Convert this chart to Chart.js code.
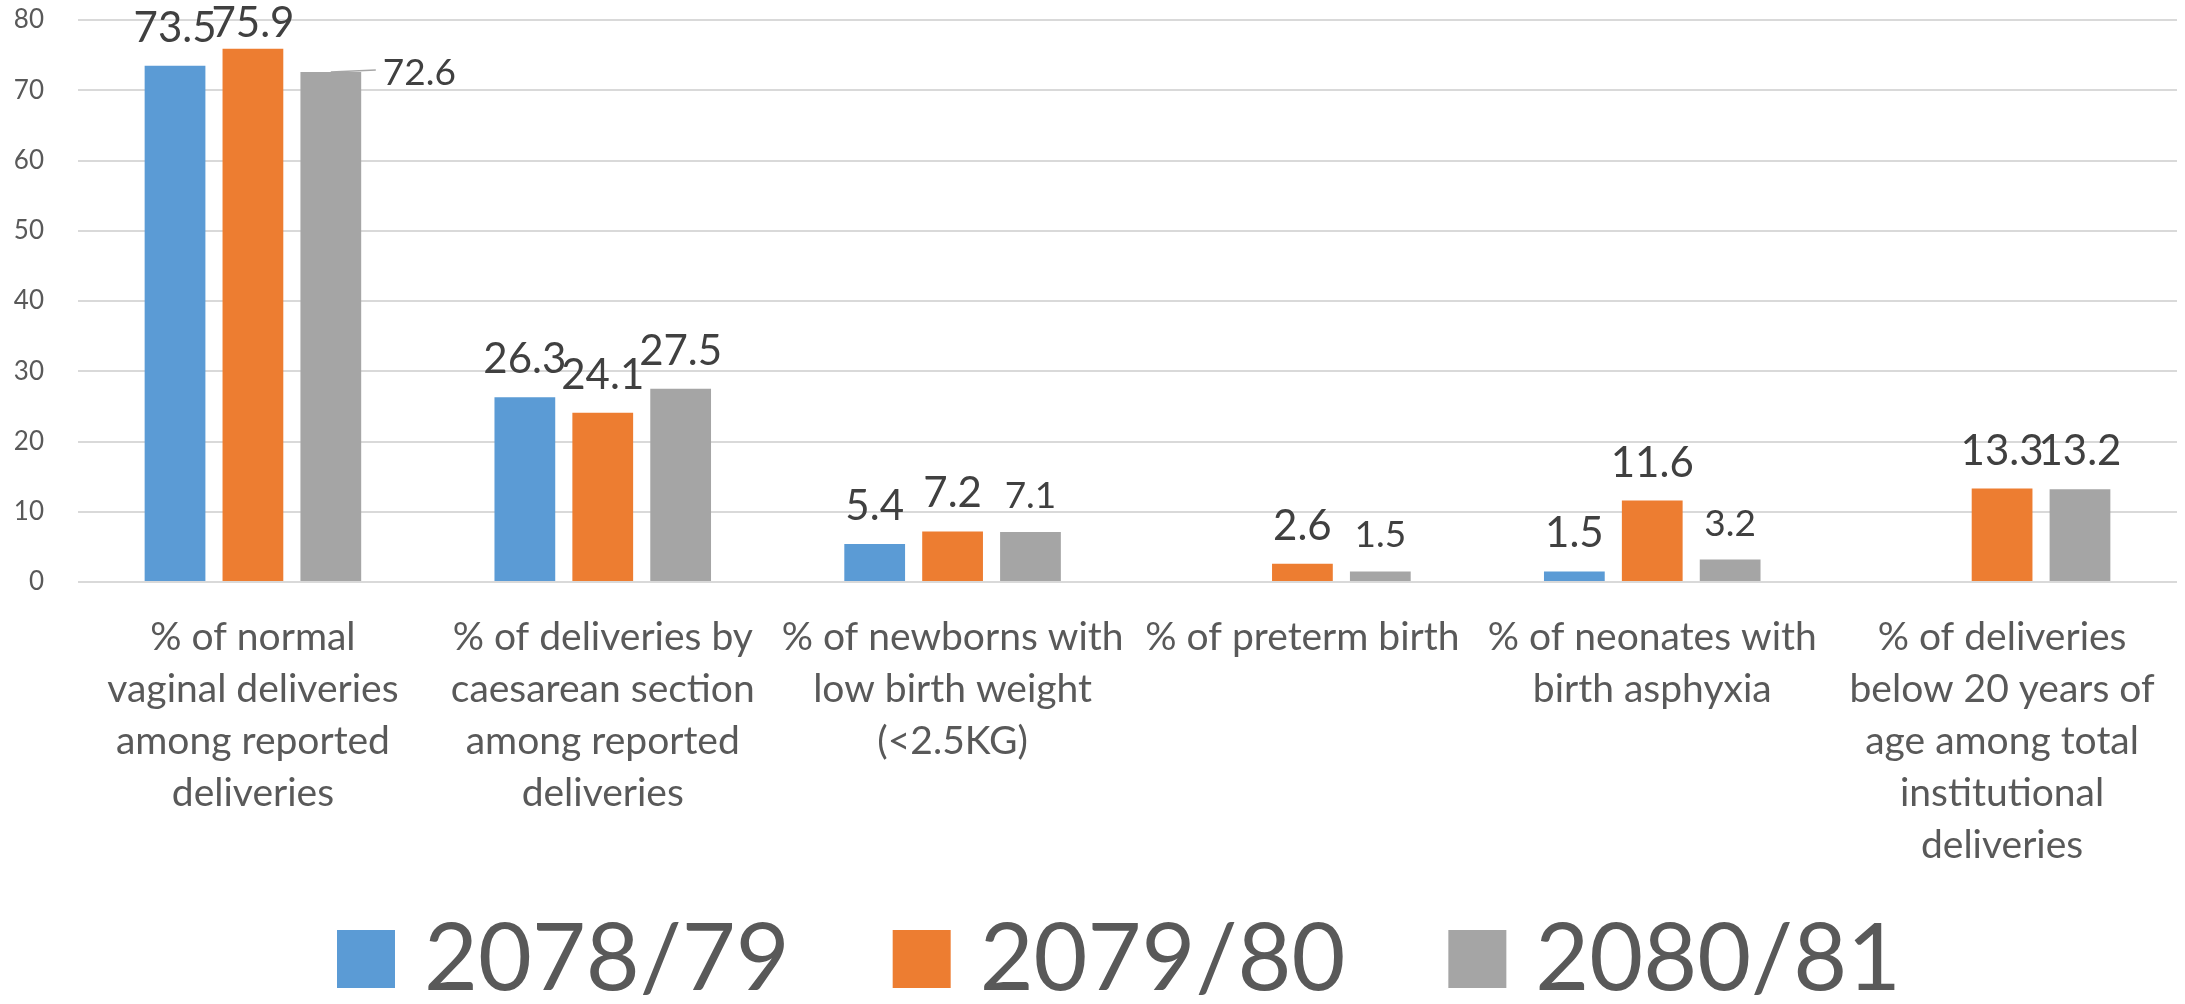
<!DOCTYPE html>
<html>
<head>
<meta charset="utf-8">
<script src="https://cdn.jsdelivr.net/npm/chart.js@4.4.1/dist/chart.umd.min.js"></script>
<style>
  html, body { margin: 0; padding: 0; background: #ffffff; }
  #wrap { width: 2185px; height: 1004px; }
  canvas { display: block; }
</style>
</head>
<body>
<div id="wrap"><canvas id="c" width="2185" height="1004"></canvas></div>
<script>
// ---- data ----
const categories = [
  ["% of normal", "vaginal deliveries", "among reported", "deliveries"],
  ["% of deliveries by", "caesarean section", "among reported", "deliveries"],
  ["% of newborns with", "low birth weight", "(<2.5KG)"],
  ["% of preterm birth"],
  ["% of neonates with", "birth asphyxia"],
  ["% of deliveries", "below 20 years of", "age among total", "institutional", "deliveries"]
];
const seriesNames = ["2078/79", "2079/80", "2080/81"];
const values2078 = [73.5, 26.3, 5.4, null, 1.5, null];
const values2079 = [75.9, 24.1, 7.2, 2.6, 11.6, 13.3];
const values2080 = [72.6, 27.5, 7.1, 1.5, 3.2, 13.2];
const yTicks = [0, 10, 20, 30, 40, 50, 60, 70, 80];

const colors = ["#5B9BD5", "#ED7D31", "#A5A5A5"];
const FONT = "Lato, Carlito, 'Open Sans', sans-serif";

const valueLabels = {
  id: 'valueLabels',
  afterDatasetsDraw(chart, args, opts) {
    const ctx = chart.ctx;
    ctx.save();
    chart.data.datasets.forEach((ds, di) => {
      const meta = chart.getDatasetMeta(di);
      if (meta.hidden) return;
      meta.data.forEach((bar, i) => {
        const v = ds.data[i];
        if (v === null || v === undefined) return;
        const key = di + ':' + i;
        const size = opts.small.includes(key) ? opts.smallSize : opts.size;
        ctx.font = size + 'px ' + FONT;
        ctx.fillStyle = opts.color;
        ctx.textBaseline = 'alphabetic';
        const txt = v.toFixed(1);
        const c = opts.callouts[key];
        if (c) {
          ctx.strokeStyle = opts.leaderColor;
          ctx.lineWidth = 1.5;
          ctx.beginPath();
          ctx.moveTo(bar.x, bar.y);
          ctx.lineTo(bar.x + c.lineDx, bar.y + c.lineDy);
          ctx.stroke();
          ctx.textAlign = 'left';
          ctx.fillText(txt, bar.x + c.dx, bar.y + c.dy);
        } else {
          ctx.textAlign = 'center';
          const y = Math.max(bar.y - opts.gap, chart.chartArea.top + opts.minTop);
          ctx.fillText(txt, bar.x, y);
        }
      });
    });
    ctx.restore();
  }
};

const bottomLegend = {
  id: 'bottomLegend',
  afterDraw(chart, args, o) {
    const ctx = chart.ctx;
    ctx.save();
    ctx.font = o.size + 'px ' + FONT;
    ctx.textBaseline = 'alphabetic';
    ctx.textAlign = 'left';
    let x = o.startX;
    chart.data.datasets.forEach(ds => {
      ctx.fillStyle = ds.backgroundColor;
      ctx.fillRect(x, o.boxTop, o.box, o.box);
      ctx.fillStyle = o.color;
      ctx.fillText(ds.label, x + o.box + o.textGap, o.baseline);
      x += o.box + o.textGap + ctx.measureText(ds.label).width + o.itemGap;
    });
    ctx.restore();
  }
};

function zeroPad(scale) {
  scale.paddingTop = 0; scale.paddingBottom = 0;
  scale.paddingLeft = 0; scale.paddingRight = 0;
}

function draw() {
  new Chart(document.getElementById('c'), {
    type: 'bar',
    data: {
      labels: categories,
      datasets: [
        { label: seriesNames[0], data: values2078, backgroundColor: colors[0] },
        { label: seriesNames[1], data: values2079, backgroundColor: colors[1] },
        { label: seriesNames[2], data: values2080, backgroundColor: colors[2] }
      ]
    },
    plugins: [valueLabels, bottomLegend],
    options: {
      responsive: false,
      animation: false,
      devicePixelRatio: 1,
      layout: { autoPadding: false, padding: { top: 20, right: 8, left: 0, bottom: 0 } },
      datasets: {
        bar: { categoryPercentage: 0.668, barPercentage: 0.78, borderWidth: 0 }
      },
      scales: {
        x: {
          grid: { display: false, drawTicks: false },
          border: { display: false },
          ticks: {
            color: '#595959',
            font: { family: FONT, size: 39, lineHeight: 52 / 39 },
            padding: 29,
            maxRotation: 0,
            autoSkip: false
          },
          afterFit(scale) { scale.height = scale.chart.height - 582; zeroPad(scale); }
        },
        y: {
          min: 0,
          max: 80,
          afterBuildTicks(scale) { scale.ticks = yTicks.map(v => ({ value: v })); },
          grid: { color: '#D9D9D9', lineWidth: 2, drawTicks: false },
          border: { display: false },
          ticks: {
            color: '#595959',
            font: { family: FONT, size: 26 },
            padding: 34
          },
          afterFit(scale) { scale.width = 78; zeroPad(scale); }
        }
      },
      plugins: {
        legend: { display: false },
        tooltip: { enabled: false },
        valueLabels: {
          color: '#404040',
          leaderColor: '#A6A6A6',
          size: 42,
          smallSize: 37,
          gap: 24,
          minTop: 17,
          small: ['2:0', '2:2', '2:3', '2:4'],
          callouts: { '2:0': { dx: 52, dy: 13, lineDx: 45, lineDy: -2 } }
        },
        bottomLegend: {
          color: '#595959',
          size: 93,
          startX: 337,
          box: 58,
          boxTop: 930,
          textGap: 29,
          itemGap: 103,
          baseline: 990
        }
      }
    }
  });
}

if (document.fonts && document.fonts.load) {
  Promise.all([document.fonts.load('40px Lato')]).then(draw, draw);
} else {
  draw();
}
</script>
</body>
</html>
